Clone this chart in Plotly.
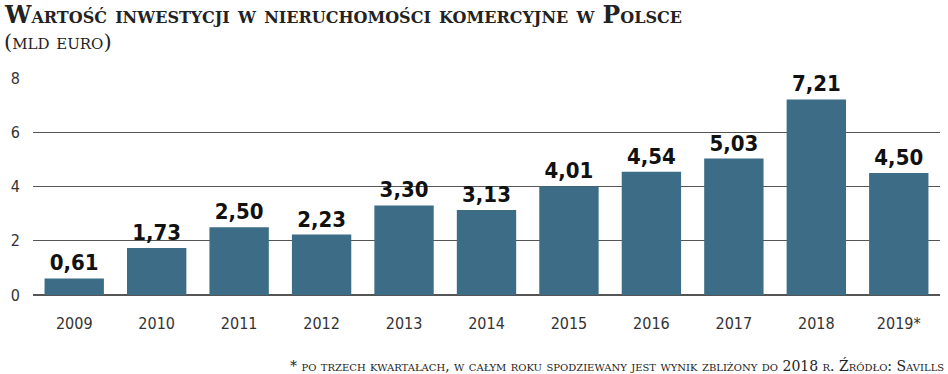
import plotly.graph_objects as go

years = ["2009", "2010", "2011", "2012", "2013", "2014", "2015", "2016", "2017", "2018", "2019*"]
values = [0.61, 1.73, 2.50, 2.23, 3.30, 3.13, 4.01, 4.54, 5.03, 7.21, 4.50]
y_ticks = [0, 2, 4, 6, 8]

title_text = "Wartość inwestycji w nieruchomości komercyjne w Polsce"
subtitle_text = "(mld euro)"
footnote_text = "* po trzech kwartałach, w całym roku spodziewany jest wynik zbliżony do 2018 r. Źródło: Savills"

bar_color = "#3d6d86"
cond = "DejaVu Sans Condensed, DejaVu Sans, sans-serif"
serif = "DejaVu Serif, Liberation Serif, serif"

fig = go.Figure(go.Bar(
    x=years, y=values,
    marker=dict(color=bar_color, line=dict(width=0)),
    texttemplate="%{y:.2f}", textposition="outside",
    textfont=dict(family=cond, size=22, color="#111111", weight="bold"),
    cliponaxis=False,
))

fig.update_layout(
    width=948, height=374,
    margin=dict(l=33, r=8, t=78, b=79),
    paper_bgcolor="white", plot_bgcolor="white",
    separators=", ",
    bargap=0.28,
    showlegend=False,
    xaxis=dict(
        type="category", showgrid=False, zeroline=False, showline=False,
        ticks="", ticklabelstandoff=17,
        tickfont=dict(family=cond, size=16, color="#333333"),
    ),
    yaxis=dict(
        range=[0, 8], tickvals=y_ticks, showgrid=True, gridcolor="#555555", gridwidth=1.3,
        zeroline=True, zerolinecolor="#555555", zerolinewidth=1.5, showline=False,
        ticks="", ticklabelstandoff=12,
        tickfont=dict(family=cond, size=16, color="#333333"),
    ),
    annotations=[
        dict(text=title_text, x=0, y=1, xref="paper", yref="paper", xanchor="left", yanchor="top",
             xshift=-31, yshift=79, showarrow=False,
             font=dict(family=serif, size=23.5, color="#222222", weight="bold", variant="small-caps")),
        dict(text=subtitle_text, x=0, y=1, xref="paper", yref="paper", xanchor="left", yanchor="top",
             xshift=-31, yshift=50, showarrow=False,
             font=dict(family=serif, size=21, color="#222222", variant="small-caps")),
        dict(text=footnote_text, x=1, y=0, xref="paper", yref="paper", xanchor="right", yanchor="top",
             xshift=6, yshift=-60, showarrow=False,
             font=dict(family=serif, size=14, color="#222222", variant="small-caps")),
    ],
)

fig.write_html("out.html", config={"displayModeBar": False},
               post_script="document.body.style.margin='0px';")
